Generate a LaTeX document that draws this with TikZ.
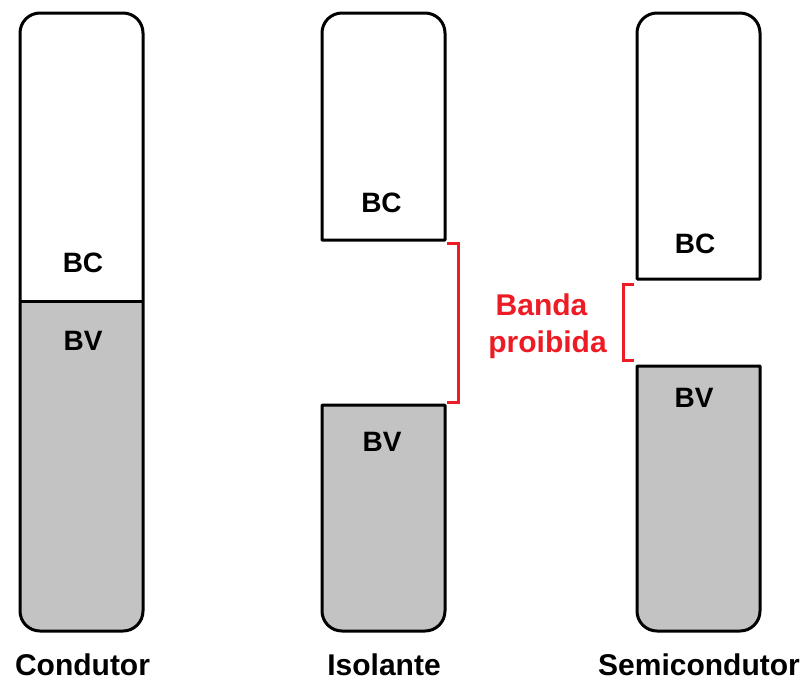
\documentclass[tikz,border=0pt]{standalone}
\usepackage{fontspec}
\setmainfont{Liberation Sans}
\definecolor{bandgray}{HTML}{C3C3C3}
\definecolor{gapred}{HTML}{ED1C24}
\tikzset{
  bandline/.style={line width=3pt, line join=round},
  bandlabel/.style={font=\fontsize{28}{32}\selectfont\bfseries, inner sep=0pt, anchor=base},
  matlabel/.style={font=\fontsize{30}{34}\selectfont\bfseries, inner sep=0pt, anchor=base},
  gaplabel/.style={font=\fontsize{30}{34}\selectfont\bfseries, text=gapred, inner sep=0pt, anchor=base},
  brace/.style={gapred, line width=3pt}
}
\begin{document}
\begin{tikzpicture}[x=1pt,y=-1pt]
\useasboundingbox (0,0) rectangle (806,681);

% Condutor: one column, conduction band on top of valence band
\fill[bandgray, rounded corners=20] (20,301) -- (20,631) -- (143,631) [sharp corners] -- (143,301) -- cycle;
\draw[bandline, rounded corners=20] (20,301) -- (20,13) -- (143,13) -- (143,631) -- (20,631) [sharp corners] -- cycle;
\draw[bandline] (20,301) -- (143,301);
\node[bandlabel] (cBC) at (83,272) {BC};
\node[bandlabel] (cBV) at (83,350) {BV};
\node[matlabel] (cName) at (82.5,675) {Condutor};

% Isolante: wide forbidden gap
\draw[bandline, rounded corners=20] (322,240) -- (322,13) -- (445,13) [sharp corners] -- (445,240) -- cycle;
\filldraw[bandline, fill=bandgray, rounded corners=20] (322,405) -- (322,631) -- (445,631) [sharp corners] -- (445,405) -- cycle;
\node[bandlabel] (iBC) at (381.5,212) {BC};
\node[bandlabel] (iBV) at (382,451) {BV};
\node[matlabel] (iName) at (384,675) {Isolante};

% Semicondutor: narrow forbidden gap
\draw[bandline, rounded corners=20] (637,279) -- (637,13) -- (760,13) [sharp corners] -- (760,279) -- cycle;
\filldraw[bandline, fill=bandgray, rounded corners=20] (637,366) -- (637,631) -- (760,631) [sharp corners] -- (760,366) -- cycle;
\node[bandlabel] (sBC) at (695,253) {BC};
\node[bandlabel] (sBV) at (694,407) {BV};
\node[matlabel] (sName) at (699,675) {Semicondutor};

% Forbidden band markers
\draw[brace] (447,243) -- (458,243) -- (458,402) -- (447,402);
\draw[brace] (634,284) -- (623,284) -- (623,360) -- (634,360);
\node[gaplabel] (gapA) at (541.5,315) {Banda};
\node[gaplabel] (gapB) at (547.5,352) {proibida};
\end{tikzpicture}
\end{document}
